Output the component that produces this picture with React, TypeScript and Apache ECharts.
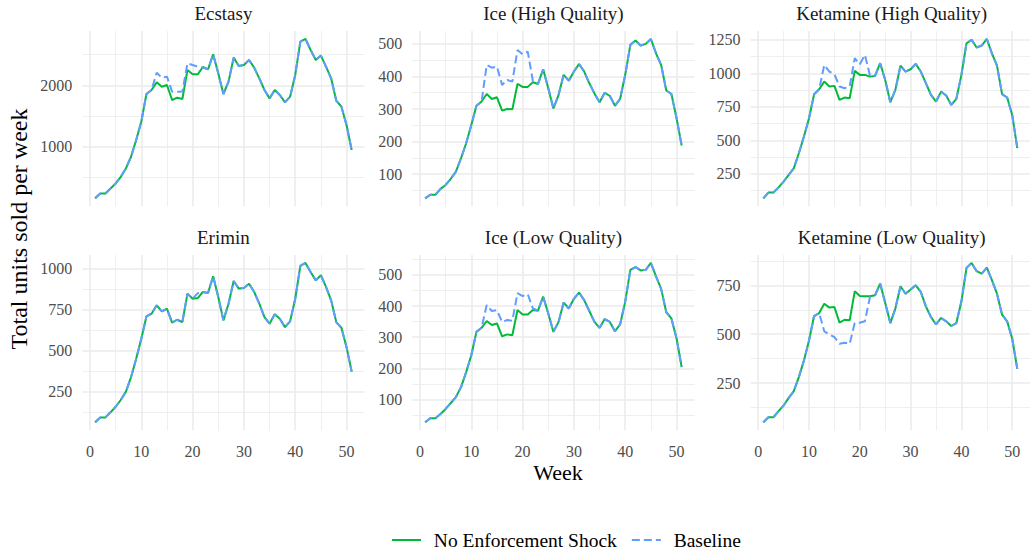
import React, { useEffect, useRef } from 'react';
import * as echarts from 'echarts';

const weeks = [1, 2, 3, 4, 5, 6, 7, 8, 9, 10, 11, 12, 13, 14, 15, 16, 17, 18, 19, 20, 21, 22, 23, 24, 25, 26, 27, 28, 29, 30, 31, 32, 33, 34, 35, 36, 37, 38, 39, 40, 41, 42, 43, 44, 45, 46, 47, 48, 49, 50, 51];

const seriesNames = ['No Enforcement Shock', 'Baseline'];
const panelTitles = ['Ecstasy', 'Ice (High Quality)', 'Ketamine (High Quality)', 'Erimin', 'Ice (Low Quality)', 'Ketamine (Low Quality)'];

const ecstasyShock = [160, 239, 240, 320, 402, 511, 647, 837, 1109, 1408, 1859, 1924, 2049, 1978, 2005, 1761, 1799, 1777, 2250, 2179, 2179, 2299, 2261, 2505, 2196, 1859, 2060, 2451, 2315, 2332, 2413, 2288, 2114, 1924, 1788, 1924, 1842, 1723, 1815, 2169, 2712, 2755, 2576, 2413, 2484, 2304, 2114, 1750, 1652, 1353, 946];
const ecstasyBase = [160, 239, 240, 320, 402, 511, 647, 837, 1109, 1408, 1859, 1924, 2206, 2125, 2141, 1897, 1897, 1900, 2359, 2332, 2304, 2288, 2261, 2505, 2196, 1859, 2060, 2451, 2315, 2332, 2413, 2288, 2114, 1924, 1788, 1924, 1842, 1723, 1815, 2169, 2712, 2755, 2576, 2413, 2484, 2304, 2114, 1750, 1652, 1353, 946];

const iceHQShock = [26, 37, 37, 55, 67, 86, 108, 149, 195, 251, 310, 323, 346, 331, 336, 295, 300, 299, 377, 368, 368, 382, 377, 422, 364, 302, 343, 405, 387, 415, 438, 415, 379, 348, 321, 350, 340, 310, 331, 405, 497, 510, 495, 500, 515, 471, 435, 357, 346, 272, 188];
const iceHQBase = [26, 37, 37, 55, 67, 86, 108, 149, 195, 251, 310, 323, 435, 427, 430, 374, 389, 384, 481, 468, 476, 386, 377, 422, 364, 302, 343, 405, 387, 415, 438, 415, 379, 348, 321, 350, 340, 310, 331, 405, 497, 510, 495, 500, 515, 471, 435, 357, 346, 272, 188];

const ketHQShock = [68, 111, 111, 150, 193, 243, 292, 404, 529, 665, 845, 882, 939, 902, 907, 802, 820, 815, 1019, 989, 989, 976, 981, 1076, 951, 785, 877, 1058, 1014, 1031, 1071, 1014, 927, 840, 790, 864, 835, 765, 810, 989, 1225, 1250, 1193, 1208, 1257, 1150, 1058, 845, 820, 690, 442];
const ketHQBase = [68, 111, 111, 150, 193, 243, 292, 404, 529, 665, 845, 882, 1063, 1014, 994, 902, 889, 902, 1113, 1068, 1138, 985, 981, 1076, 951, 785, 877, 1058, 1014, 1031, 1071, 1014, 927, 840, 790, 864, 835, 765, 810, 989, 1225, 1250, 1193, 1208, 1257, 1150, 1058, 845, 820, 690, 442];

const eriminShock = [63, 93, 93, 124, 158, 199, 250, 338, 450, 572, 708, 725, 776, 739, 755, 670, 688, 674, 847, 816, 820, 857, 851, 953, 827, 684, 786, 924, 878, 882, 908, 857, 786, 704, 664, 721, 694, 643, 678, 816, 1016, 1034, 979, 928, 959, 888, 806, 674, 639, 521, 372];
const eriminBase = [63, 93, 93, 124, 158, 199, 250, 338, 450, 572, 708, 725, 776, 739, 755, 670, 688, 674, 847, 816, 850, 857, 851, 953, 827, 684, 786, 924, 878, 882, 908, 857, 786, 704, 664, 721, 694, 643, 678, 816, 1016, 1034, 979, 928, 959, 888, 806, 674, 639, 521, 372];

const iceLQShock = [27, 40, 40, 54, 70, 89, 108, 140, 188, 242, 317, 330, 352, 339, 344, 303, 309, 306, 387, 373, 373, 387, 385, 430, 376, 317, 349, 411, 392, 423, 443, 419, 384, 349, 330, 358, 349, 319, 341, 414, 516, 525, 514, 516, 538, 495, 455, 380, 360, 296, 204];
const iceLQBase = [27, 40, 40, 54, 70, 89, 108, 140, 188, 242, 317, 330, 403, 384, 387, 349, 355, 353, 441, 432, 438, 392, 385, 430, 376, 317, 349, 411, 392, 423, 443, 419, 384, 349, 330, 358, 349, 319, 341, 414, 516, 525, 514, 516, 538, 495, 455, 380, 360, 296, 204];

const ketLQShock = [50, 76, 76, 107, 136, 175, 209, 281, 366, 468, 593, 608, 656, 636, 639, 559, 574, 571, 719, 695, 694, 694, 699, 759, 660, 557, 631, 745, 707, 728, 750, 716, 642, 588, 550, 583, 566, 542, 557, 668, 839, 864, 822, 810, 840, 776, 707, 600, 566, 477, 323];
const ketLQBase = [50, 76, 76, 107, 136, 175, 209, 281, 366, 468, 593, 608, 515, 499, 485, 451, 456, 451, 557, 559, 566, 690, 699, 759, 660, 557, 631, 745, 707, 728, 750, 716, 642, 588, 550, 583, 566, 542, 557, 668, 839, 864, 822, 810, 840, 776, 707, 600, 566, 477, 323];

const xMajorTicks = [0, 10, 20, 30, 40, 50];
const xMinorTicks = [5, 15, 25, 35, 45];

const ecstasyMajor = [1000, 2000];
const ecstasyMinor = [500, 1500, 2500];
const iceHQMajor = [100, 200, 300, 400, 500];
const iceHQMinor = [50, 150, 250, 350, 450];
const ketHQMajor = [250, 500, 750, 1000, 1250];
const ketHQMinor = [125, 375, 625, 875, 1125];
const eriminMajor = [250, 500, 750, 1000];
const eriminMinor = [125, 375, 625, 875];
const iceLQMajor = [100, 200, 300, 400, 500];
const iceLQMinor = [50, 150, 250, 350, 450, 550];
const ketLQMajor = [250, 500, 750];
const ketLQMinor = [125, 375, 625, 875];

const panelShock = [ecstasyShock, iceHQShock, ketHQShock, eriminShock, iceLQShock, ketLQShock];
const panelBase = [ecstasyBase, iceHQBase, ketHQBase, eriminBase, iceLQBase, ketLQBase];
const panelMajor = [ecstasyMajor, iceHQMajor, ketHQMajor, eriminMajor, iceLQMajor, ketLQMajor];
const panelMinor = [ecstasyMinor, iceHQMinor, ketHQMinor, eriminMinor, iceLQMinor, ketLQMinor];

const FONT = '"Liberation Serif", "DejaVu Serif", serif';
const GREEN = '#00BA38';
const BLUE = '#619CFF';
const GRID = '#EBEBEB';

export default function App() {
  const ref = useRef<HTMLDivElement>(null);

  useEffect(() => {
    const chart = echarts.init(ref.current!, null, { renderer: 'svg' });

    const colLeft = [82.3, 412.3, 750.6];
    const panelW = 282.2;
    const rowTop = [31, 255];
    const panelH = 175.3;

    const grids: any[] = [];
    const xAxes: any[] = [];
    const yAxes: any[] = [];
    const series: any[] = [];
    const graphics: any[] = [];

    for (let i = 0; i < 6; i++) {
      const row = Math.floor(i / 3);
      const col = i % 3;
      grids.push({ left: colLeft[col], top: rowTop[row], width: panelW, height: panelH, containLabel: false });

      const all = panelShock[i].concat(panelBase[i]);
      const lo = Math.min(...all);
      const hi = Math.max(...all);
      const pad = (hi - lo) * 0.05;
      const yMin = lo - pad;
      const yMax = hi + pad;

      xAxes.push({
        type: 'value', gridIndex: i, min: -1.5, max: 53.5,
        axisLine: { show: false },
        axisTick: { show: false, customValues: xMajorTicks },
        axisLabel: {
          show: row === 1, customValues: xMajorTicks, margin: 13,
          color: '#4D4D4D', fontFamily: FONT, fontSize: 16,
          formatter: (v: number) => String(v),
        },
        splitLine: { show: true, lineStyle: { color: GRID, width: 1.6 } },
      });
      xAxes.push({
        type: 'value', gridIndex: i, min: -1.5, max: 53.5, position: 'top',
        axisLine: { show: false },
        axisTick: { show: false, customValues: xMinorTicks },
        axisLabel: { show: false, customValues: xMinorTicks },
        splitLine: { show: true, lineStyle: { color: GRID, width: 0.8 } },
      });
      yAxes.push({
        type: 'value', gridIndex: i, min: yMin, max: yMax,
        axisLine: { show: false },
        axisTick: { show: false, customValues: panelMajor[i] },
        axisLabel: {
          customValues: panelMajor[i], margin: 10,
          color: '#4D4D4D', fontFamily: FONT, fontSize: 16,
          formatter: (v: number) => String(Math.round(v)),
        },
        splitLine: { show: true, lineStyle: { color: GRID, width: 1.6 } },
      });
      yAxes.push({
        type: 'value', gridIndex: i, min: yMin, max: yMax, position: 'right',
        axisLine: { show: false },
        axisTick: { show: false, customValues: panelMinor[i] },
        axisLabel: { show: false, customValues: panelMinor[i] },
        splitLine: { show: true, lineStyle: { color: GRID, width: 0.8 } },
      });

      series.push({
        name: seriesNames[0], type: 'line', xAxisIndex: 2 * i, yAxisIndex: 2 * i,
        data: weeks.map((w, k) => [w, panelShock[i][k]]),
        symbol: 'none', color: GREEN, z: 2,
        lineStyle: { color: GREEN, width: 2 },
      });
      series.push({
        name: seriesNames[1], type: 'line', xAxisIndex: 2 * i, yAxisIndex: 2 * i,
        data: weeks.map((w, k) => [w, panelBase[i][k]]),
        symbol: 'none', color: BLUE, z: 3,
        lineStyle: { color: BLUE, width: 2, type: [8, 4] },
      });

      graphics.push({
        type: 'text',
        x: colLeft[col] + panelW / 2,
        y: rowTop[row] - 18,
        style: {
          text: panelTitles[i], textAlign: 'center', textVerticalAlign: 'middle',
          fill: '#1A1A1A', font: `19px ${FONT}`,
        },
      });
    }

    graphics.push({
      type: 'text', x: 558, y: 472,
      style: { text: 'Week', textAlign: 'center', textVerticalAlign: 'middle', fill: '#000', font: `22px ${FONT}` },
    });
    graphics.push({
      type: 'text', x: 19, y: 229, rotation: Math.PI / 2,
      style: { text: 'Total units sold per week', textAlign: 'center', textVerticalAlign: 'middle', fill: '#000', font: `24px ${FONT}` },
    });

    chart.setOption({
      animation: false,
      backgroundColor: '#ffffff',
      grid: grids,
      xAxis: xAxes,
      yAxis: yAxes,
      series,
      graphic: graphics,
      legend: {
        data: seriesNames,
        left: 391, top: 530, padding: 0,
        itemWidth: 29, itemHeight: 16, itemGap: 14,
        itemStyle: { opacity: 0 },
        formatter: (name: string) => '\u2009\u2009' + name,
        textStyle: { fontFamily: FONT, fontSize: 19.5, color: '#000' },
      },
    });

    return () => chart.dispose();
  }, []);

  return <div ref={ref} style={{ position: 'absolute', left: 0, top: 0, width: 1030, height: 552 }} />;
}
